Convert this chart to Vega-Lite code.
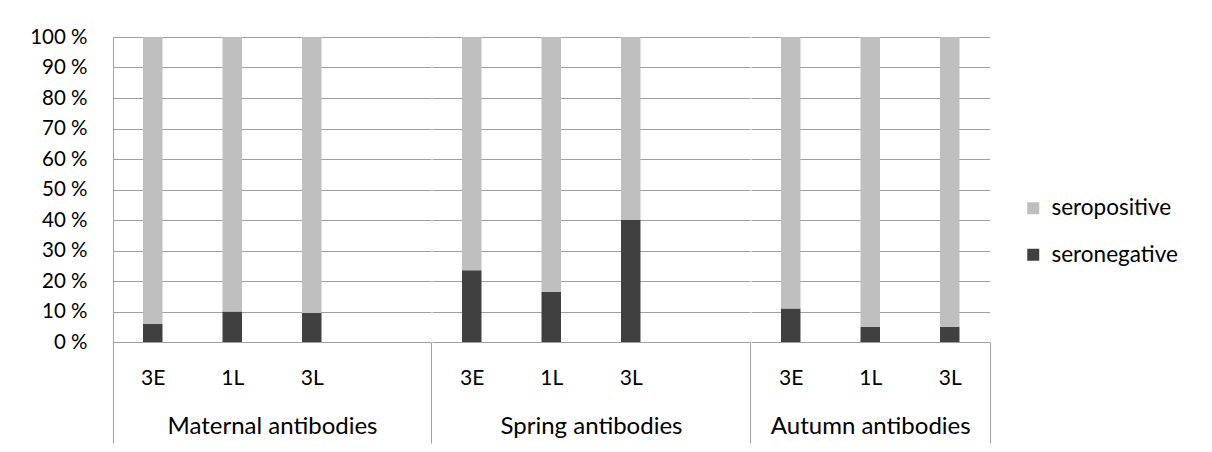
{
  "$schema": "https://vega.github.io/schema/vega-lite/v6.json",
  "background": "white",
  "padding": {"left": 29, "top": 27, "right": 0, "bottom": 0},
  "spacing": 0,
  "config": {
    "font": "Lato",
    "view": {"stroke": null},
    "axisX": {
      "domain": false,
      "grid": false,
      "ticks": true,
      "tickBand": "extent",
      "tickSize": 101,
      "tickColor": "#a0a0a0",
      "tickWidth": 1,
      "labelAngle": 0,
      "labelFont": "Lato",
      "labelFontSize": 21,
      "labelColor": "#000000",
      "labelBaseline": "alphabetic",
      "labelPadding": -59,
      "titleFont": "Lato",
      "titleFontSize": 24,
      "titleFontWeight": "normal",
      "titleColor": "#000000",
      "titleY": 91,
      "titleBaseline": "alphabetic"
    },
    "axisY": {
      "grid": true,
      "gridColor": "#a0a0a0",
      "gridWidth": 1,
      "ticks": false,
      "values": [0, 10, 20, 30, 40, 50, 60, 70, 80, 90, 100],
      "title": null
    }
  },
  "data": {
    "values": [
      {"group": "Maternal antibodies", "period": "3E", "status": "seronegative", "pct": 6},
      {"group": "Maternal antibodies", "period": "3E", "status": "seropositive", "pct": 94},
      {"group": "Maternal antibodies", "period": "1L", "status": "seronegative", "pct": 10},
      {"group": "Maternal antibodies", "period": "1L", "status": "seropositive", "pct": 90},
      {"group": "Maternal antibodies", "period": "3L", "status": "seronegative", "pct": 9.5},
      {"group": "Maternal antibodies", "period": "3L", "status": "seropositive", "pct": 90.5},
      {"group": "Spring antibodies", "period": "3E", "status": "seronegative", "pct": 23.5},
      {"group": "Spring antibodies", "period": "3E", "status": "seropositive", "pct": 76.5},
      {"group": "Spring antibodies", "period": "1L", "status": "seronegative", "pct": 16.5},
      {"group": "Spring antibodies", "period": "1L", "status": "seropositive", "pct": 83.5},
      {"group": "Spring antibodies", "period": "3L", "status": "seronegative", "pct": 40},
      {"group": "Spring antibodies", "period": "3L", "status": "seropositive", "pct": 60},
      {"group": "Autumn antibodies", "period": "3E", "status": "seronegative", "pct": 11},
      {"group": "Autumn antibodies", "period": "3E", "status": "seropositive", "pct": 89},
      {"group": "Autumn antibodies", "period": "1L", "status": "seronegative", "pct": 5},
      {"group": "Autumn antibodies", "period": "1L", "status": "seropositive", "pct": 95},
      {"group": "Autumn antibodies", "period": "3L", "status": "seronegative", "pct": 5},
      {"group": "Autumn antibodies", "period": "3L", "status": "seropositive", "pct": 95}
    ]
  },
  "resolve": {"scale": {"y": "shared", "color": "shared"}},
  "hconcat": [
    {
      "width": 318,
      "height": 305,
      "transform": [{"filter": "datum.group === 'Maternal antibodies'"}],
      "mark": {"type": "bar", "width": {"band": 0.245}},
      "encoding": {
        "x": {"field": "period", "type": "nominal", "scale": {"domain": ["3E", "1L", "3L", " "], "paddingInner": 0, "paddingOuter": 0},
          "axis": {"title": "Maternal antibodies", "tickOpacity": {"condition": {"test": "datum.value === ' ' || !datum.value", "value": 1}, "value": 0}}},
        "y": {"field": "pct", "type": "quantitative", "stack": "zero", "scale": {"domain": [0, 100]},
          "axis": {"labelExpr": "datum.value + ' %'", "labelFont": "Lato", "labelFontSize": 20.5, "labelColor": "#000000", "labelPadding": 26, "domain": true, "domainColor": "#a0a0a0", "domainWidth": 1}},
        "color": {"field": "status", "type": "nominal", "scale": {"domain": ["seropositive", "seronegative"], "range": ["#bfbfbf", "#404040"]},
          "legend": {"title": null, "orient": "none", "legendX": 909, "legendY": 160, "symbolType": "square", "symbolSize": 144, "symbolStrokeWidth": 0, "labelFont": "Lato", "labelFontSize": 22.5, "labelColor": "#000000", "labelOffset": 7, "rowPadding": 23.5}},
        "order": {"field": "status", "sort": "ascending"}
      }
    },
    {
      "width": 318,
      "height": 305,
      "transform": [{"filter": "datum.group === 'Spring antibodies'"}],
      "mark": {"type": "bar", "width": {"band": 0.245}},
      "encoding": {
        "x": {"field": "period", "type": "nominal", "scale": {"domain": ["3E", "1L", "3L", " "], "paddingInner": 0, "paddingOuter": 0},
          "axis": {"title": "Spring antibodies", "tickOpacity": {"condition": {"test": "datum.value === ' '", "value": 1}, "value": 0}}},
        "y": {"field": "pct", "type": "quantitative", "stack": "zero", "scale": {"domain": [0, 100]},
          "axis": {"labels": false, "domain": false, "minExtent": 0, "maxExtent": 0}},
        "color": {"field": "status", "type": "nominal", "scale": {"domain": ["seropositive", "seronegative"], "range": ["#bfbfbf", "#404040"]}},
        "order": {"field": "status", "sort": "ascending"}
      }
    },
    {
      "width": 238.5,
      "height": 305,
      "transform": [{"filter": "datum.group === 'Autumn antibodies'"}],
      "mark": {"type": "bar", "width": {"band": 0.245}},
      "encoding": {
        "x": {"field": "period", "type": "nominal", "scale": {"domain": ["3E", "1L", "3L"], "paddingInner": 0, "paddingOuter": 0},
          "axis": {"title": "Autumn antibodies", "tickOpacity": {"condition": {"test": "datum.value === '3L'", "value": 1}, "value": 0}}},
        "y": {"field": "pct", "type": "quantitative", "stack": "zero", "scale": {"domain": [0, 100]},
          "axis": {"labels": false, "domain": false, "minExtent": 0, "maxExtent": 0}},
        "color": {"field": "status", "type": "nominal", "scale": {"domain": ["seropositive", "seronegative"], "range": ["#bfbfbf", "#404040"]}},
        "order": {"field": "status", "sort": "ascending"}
      }
    }
  ]
}
